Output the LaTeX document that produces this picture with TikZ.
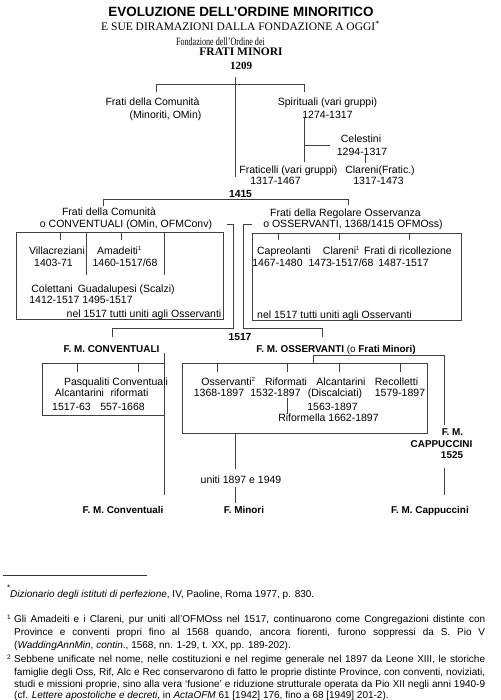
\documentclass[tikz,border=0pt]{standalone}
\usepackage{fontspec}
\usepackage{graphicx}
\setmainfont{Liberation Serif}
\setsansfont{Liberation Sans}
\usetikzlibrary{calc}
\tikzset{
  ln/.style={line width=0.8pt, draw=black!75},
  bx/.style={draw=black!75, line width=0.8pt, inner sep=0pt, outer sep=0pt, anchor=north west},
  tx/.style={font=\sffamily\fontsize{10.5}{12}\selectfont, inner sep=0pt, text height=7.5pt, text depth=0pt},
  tb/.style={font=\sffamily\bfseries\fontsize{9.9}{12}\selectfont, inner sep=0pt, text height=7.1pt, text depth=0pt},
  ttl/.style={font=\sffamily\bfseries\fontsize{13.4}{15}\selectfont, inner sep=0pt, text height=9.6pt, text depth=0pt},
  srf/.style={font=\rmfamily\fontsize{11.5}{13}\selectfont, inner sep=0pt, text height=7.6pt, text depth=0pt},
  srfb/.style={font=\rmfamily\bfseries\fontsize{11.5}{13}\selectfont, inner sep=0pt, text height=7.6pt, text depth=0pt},
  fn/.style={font=\sffamily\fontsize{10}{12}\selectfont, inner sep=0pt, anchor=base west},
  fnm/.style={font=\sffamily\fontsize{6.5}{7}\selectfont, inner sep=0pt, anchor=base west},
}
\newcommand{\mysup}[1]{\textsuperscript{\fontsize{6}{7}\selectfont #1}}
\begin{document}
\begin{tikzpicture}[x=1pt,y=-1pt]
\useasboundingbox[fill=white] (0,0) rectangle (500,700);

% ---- heading
\node[ttl] (title) at (241,12) {EVOLUZIONE DELL’ORDINE MINORITICO};
\node[srf] (subt) at (240.5,27) {E SUE DIRAMAZIONI DALLA FONDAZIONE A OGGI\textsuperscript{*}};
\node[srf, font=\rmfamily\fontsize{11.2}{12}\selectfont] (fond) at (220.5,41.5) {\scalebox{0.72}[1]{Fondazione dell’Ordine dei}};
\node[srfb] (fm) at (241,52) {FRATI MINORI};
\node[srfb, font=\rmfamily\bfseries\fontsize{11}{12}\selectfont] (y1209) at (241,66) {1209};

% ---- first split
\coordinate (m0) at (235,77);
\coordinate (m1) at (235,177);
\draw[ln] (m0) -- (m1);
\coordinate (s1a) at (156,92);
\coordinate (s1b) at (156,84);
\coordinate (s1c) at (304,84);
\coordinate (s1d) at (304,92);
\draw[ln] (s1a) -- (s1b) -- (s1c) -- (s1d);

\node[tx] (fcom) at (152.5,102) {Frati della Comunità};
\node[tx] (fcom2) at (165.5,115) {(Minoriti, OMin)};
\node[tx] (spir) at (327.5,102) {Spirituali (vari gruppi)};
\node[tx] (spir2) at (327.5,115) {1274-1317};

\coordinate (sp0) at (304,118);
\coordinate (sp1) at (304,162);
\coordinate (spj) at (304,145);
\coordinate (spc) at (330,145);
\draw[ln] (sp0) -- (sp1);
\draw[ln] (spj) -- (spc);
\node[tx] (cel) at (361,139) {Celestini};
\node[tx] (cel2) at (362,152) {1294-1317};
\coordinate (ce0) at (365,155);
\coordinate (ce1) at (365,163);
\draw[ln] (ce0) -- (ce1);
\node[tx] (frat) at (288.5,170) {Fraticelli (vari gruppi)};
\node[tx] (frat2) at (275.5,181) {1317-1467};
\node[tx] (clar) at (380,170) {Clareni(Fratic.)};
\node[tx] (clar2) at (378.5,181) {1317-1473};

% ---- 1415
\node[tb, font=\sffamily\bfseries\fontsize{10.3}{12}\selectfont] (y1415) at (240.5,194) {1415};
\coordinate (s2a) at (103,206);
\coordinate (s2b) at (103,199);
\coordinate (s2c) at (348,199);
\coordinate (s2d) at (348,205);
\draw[ln] (s2a) -- (s2b) -- (s2c) -- (s2d);

\node[tx] (conv1) at (109,212) {Frati della Comunità};
\node[tx] (conv2) at (126,224) {o CONVENTUALI (OMin, OFMConv)};
\node[tx] (oss1) at (345.5,213) {Frati della Regolare Osservanza};
\node[tx] (oss2) at (353,224) {o OSSERVANTI, 1368/1415 OFMOss)};

% ---- box A (Conventuali)
\node[bx, minimum width=207pt, minimum height=87pt] (boxA) at (16,232) {};
\draw[ln] ($(boxA.north west)+(44,0)$) -- ++(0,8);
\draw[ln] ($(boxA.north west)+(105,0)$) -- ++(0,8);
\draw[ln] ($(boxA.north west)+(70,0)$) -- ++(0,43);
\draw[ln] ($(boxA.north west)+(148,0)$) -- ++(0,43);
\node[tx] (villa) at (57,251) {Villacreziani};
\node[tx] (villa2) at (53.5,263) {1403-71};
\node[tx] (amad) at (119.5,251) {Amadeiti\mysup{1}};
\node[tx] (amad2) at (125,263) {1460-1517/68};
\node[tx] (colet) at (103,289) {Colettani\hspace{5pt}Guadalupesi (Scalzi)};
\node[tx] (colet2) at (81,300) {1412-1517 1495-1517};
\node[tx] (nelA) at (144,314) {nel 1517 tutti uniti agli Osservanti};

% ---- box B (Osservanti)
\node[bx, minimum width=209pt, minimum height=87pt] (boxB) at (252,233) {};
\draw[ln] ($(boxB.north west)+(26,0)$) -- ++(0,7);
\draw[ln] ($(boxB.north west)+(87,0)$) -- ++(0,7);
\draw[ln] ($(boxB.north west)+(157,0)$) -- ++(0,7);
\node[tx] (capr) at (284,251) {Capreolanti};
\node[tx] (capr2) at (277.5,263) {1467-1480};
\node[tx] (clarB) at (341.5,251) {Clareni\mysup{1}};
\node[tx] (clarB2) at (341,263) {1473-1517/68};
\node[tx] (ricol) at (408,251) {Frati di ricollezione};
\node[tx] (ricol2) at (403.5,263) {1487-1517};
\node[tx] (nelB) at (334.5,315) {nel 1517 tutti uniti agli Osservanti};

% ---- leads to 1517
\coordinate (ca) at (227,224);
\coordinate (cb) at (233,224);
\coordinate (cc) at (233,328);
\coordinate (cd) at (112,328);
\coordinate (ce) at (112,337);
\draw[ln] (ca) -- (cb) -- (cc) -- (cd) -- (ce);
\coordinate (oa) at (252,224);
\coordinate (ob) at (243,224);
\coordinate (oc) at (243,328);
\coordinate (od) at (322,328);
\coordinate (oe) at (322,337);
\draw[ln] (oa) -- (ob) -- (oc) -- (od) -- (oe);

\node[tb, font=\sffamily\bfseries\fontsize{10.3}{12}\selectfont] (y1517) at (240,337) {1517};
\node[tb] (fmconv) at (111.5,349) {F. M. CONVENTUALI};
\node[tb] (fmoss) at (336,349) {F. M. OSSERVANTI {\mdseries (o} Frati Minori)};

% ---- box C
\node[bx, minimum width=122pt, minimum height=52pt] (boxC) at (42,363) {};
\coordinate (cv0) at (164,353);
\coordinate (cv1) at (164,495);
\draw[ln] (cv0) -- (cv1);
\draw[ln] ($(boxC.north west)+(35,0)$) -- ++(0,9);
\draw[ln] ($(boxC.north west)+(96,0)$) -- ++(0,9);
\node[tx] (pasq) at (116,382) {Pasqualiti Conventuali};
\node[tx] (alcC) at (79.5,393) {Alcantarini};
\node[tx] (rifC) at (129.5,393) {riformati};
\node[tx] (alcC2) at (71.5,407) {1517-63};
\node[tx] (rifC2) at (122.5,407) {557-1668};

% ---- box D
\node[bx, minimum width=245pt, minimum height=70pt] (boxD) at (182,363) {};
\draw[ln] ($(boxD.north west)+(35,0)$) -- ++(0,9);
\draw[ln] ($(boxD.north west)+(105,0)$) -- ++(0,9);
\draw[ln] ($(boxD.north west)+(157,0)$) -- ++(0,9);
\draw[ln] ($(boxD.north west)+(218,0)$) -- ++(0,9);
\coordinate (rf0) at (287,398);
\coordinate (rf1) at (287,414);
\draw[ln] (rf0) -- (rf1);
\node[tx] (ossD) at (228.5,382) {Osservanti\mysup{2}};
\node[tx] (ossD2) at (219,393) {1368-1897};
\node[tx] (rifD) at (286,382) {Riformati};
\node[tx] (rifD2) at (275.5,393) {1532-1897};
\node[tx] (alcD) at (341,382) {Alcantarini};
\node[tx] (alcD2) at (335,393) {(Discalciati)};
\node[tx] (alcD3) at (332.5,407) {1563-1897};
\node[tx] (rifm) at (328.5,418) {Riformella 1662-1897};
\node[tx] (reco) at (396.5,382) {Recolletti};
\node[tx] (reco2) at (400,393) {1579-1897};

% ---- Cappuccini branch
\coordinate (cp0) at (313,363);
\coordinate (cp1) at (313,355);
\coordinate (cp2) at (444,355);
\coordinate (cp3) at (444,425);
\draw[ln] (cp0) -- (cp1) -- (cp2) -- (cp3);
\node[tb] (capA) at (452.5,432) {F. M.};
\node[tb] (capB) at (441.5,444) {CAPPUCCINI};
\node[tb] (capC) at (452,455) {1525};
\coordinate (cp4) at (444,468);
\coordinate (cp5) at (444,495);
\draw[ln] (cp4) -- (cp5);

% ---- Minori
\coordinate (mi0) at (235,433);
\coordinate (mi1) at (235,469);
\coordinate (mi2) at (235,487);
\coordinate (mi3) at (235,503);
\draw[ln] (mi0) -- (mi1);
\draw[ln] (mi2) -- (mi3);
\node[tx] (uniti) at (241,480) {uniti 1897 e 1949};

\node[tb] (endC) at (123,510) {F. M. Conventuali};
\node[tb] (endM) at (244,510) {F. Minori};
\node[tb] (endP) at (430,510) {F. M. Cappuccini};

% ---- footnotes
\coordinate (r0) at (3,575);
\coordinate (r1) at (147,575);
\draw[line width=0.6pt, draw=black!80] (r0) -- (r1);
\node[fnm, font=\sffamily\fontsize{8}{9}\selectfont] (mk0) at (7,590) {*};
\node[fn] (f0) at (10,597.6) {\textit{Dizionario degli istituti di perfezione}, IV, Paoline, Roma 1977, p. 830.};
\node[fnm] (mk1) at (7,619) {1};
\node[fn] (f1a) at (14,622.6) {\makebox[471pt][s]{Gli Amadeiti e i Clareni, pur uniti all’OFMOss nel 1517, continuarono come Congregazioni distinte con}};
\node[fn] (f1b) at (14,635.6) {\makebox[471pt][s]{Province e conventi propri fino al 1568 quando, ancora fiorenti, furono soppressi da S. Pio V}};
\node[fn] (f1c) at (14,648.4) {(\textit{WaddingAnnMin}, \textit{contin}., 1568, nn. 1-29, t. XX, pp. 189-202).};
\node[fnm] (mk2) at (7,659) {2};
\node[fn] (f2a) at (14,662.4) {\makebox[471pt][s]{Sebbene unificate nel nome, nelle costituzioni e nel regime generale nel 1897 da Leone XIII, le storiche}};
\node[fn] (f2b) at (14,675) {\makebox[471pt][s]{famiglie degli Oss, Rif, Alc e Rec conservarono di fatto le proprie distinte Province, con conventi, noviziati,}};
\node[fn] (f2c) at (14,687.4) {\makebox[471pt][s]{studi e missioni proprie, sino alla vera ‘fusione’ e riduzione strutturale operata da Pio XII negli anni 1940-9}};
\node[fn] (f2d) at (14,698.6) {(cf. \textit{Lettere apostoliche e decreti}, in \textit{ActaOFM} 61 [1942] 176, fino a 68 [1949] 201-2).};
\end{tikzpicture}
\end{document}
